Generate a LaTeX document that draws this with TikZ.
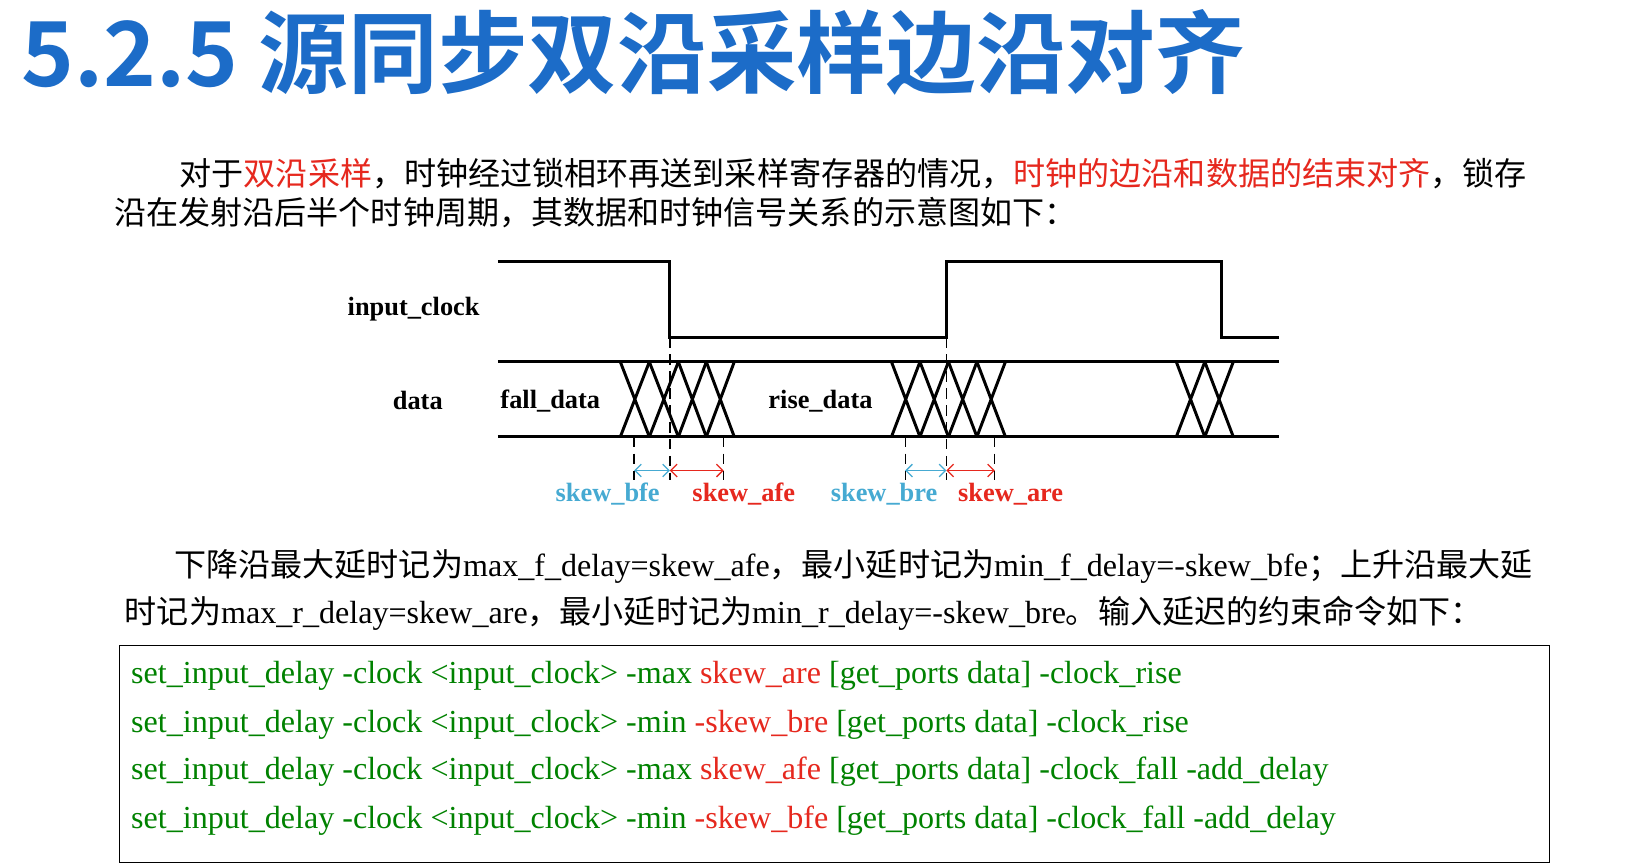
\documentclass[tikz,border=0pt]{standalone}
\usepackage{fontspec}
\setmainfont{Liberation Serif}
\newfontfamily\cjk{Noto Sans CJK SC}
\newfontfamily\cjkb{Noto Sans CJK SC Bold}
\usetikzlibrary{arrows.meta}
\definecolor{ttl}{RGB}{28,108,200}
\definecolor{sred}{RGB}{230,40,30}
\definecolor{sblue}{RGB}{70,170,210}
\definecolor{cgreen}{RGB}{0,130,0}
\begin{document}
\begin{tikzpicture}[x=0.5pt,y=-0.5pt,
  wave/.style={line width=1.4pt},
  txt/.style={anchor=base west,inner sep=0pt,font=\fontsize{15.2}{18}\selectfont},
  code/.style={anchor=base west,inner sep=0pt,font=\fontsize{15.2}{17}\selectfont},
  lab/.style={inner sep=0pt,font=\fontsize{12.5}{14}\selectfont\bfseries},
  dsh/.style={dashed,line width=0.6pt,dash pattern=on 5pt off 3pt},
  dim/.style={{Straight Barb[length=3pt]}-{Straight Barb[length=3pt]},line width=0.6pt}]
\useasboundingbox (0,0) rectangle (1564,818);
\fill[white] (0,0) rectangle (1564,818);
\node[anchor=base west,inner sep=0pt,text=ttl,font=\fontsize{42.5}{46}\selectfont] (title) at (20,82) {\cjkb 5.2.5 源同步双沿采样边沿对齐};
\node[txt] (p1a) at (170,176) {\cjk 对于\textcolor{sred}{双沿采样}，时钟经过锁相环再送到采样寄存器的情况，\textcolor{sred}{时钟的边沿和数据的结束对齐}，锁存};
\node[txt] (p1b) at (108,213) {\cjk 沿在发射沿后半个时钟周期，其数据和时钟信号关系的示意图如下：};
% clock
\draw[wave] (472,248) -- (635,248) -- (635,320) -- (897,320) -- (897,248) -- (1158,248) -- (1158,320) -- (1212,320);
\draw[wave] (472,343) -- (1212,343);
\draw[wave] (472,414) -- (1212,414);
\foreach \a/\b in {588/615.5,615.5/643,643/669.5,669.5/696,845/872,872/899,899/926,926/953,1115/1142,1142/1169}
  \draw[wave] (\a,343) -- (\b,414) (\a,414) -- (\b,343);
\draw[dsh] (635,320) -- (635,455);
\draw[dsh] (897,320) -- (897,455);
\foreach \x in {601,686,858,943} \draw[dsh] (\x,414) -- (\x,455);
\draw[dim,sblue] (601,446) -- (635,446);
\draw[dim,sred] (635,446) -- (686,446);
\draw[dim,sblue] (858,446) -- (897,446);
\draw[dim,sred] (897,446) -- (943,446);
\node[lab,anchor=east] (clk) at (455,293) {input\_clock};
\node[lab] (dat) at (396,380) {data};
\node[lab,anchor=west] (fd) at (474,380) {fall\_data};
\node[lab,anchor=west] (rd) at (728,380) {rise\_data};
\node[lab,text=sblue] (l1) at (576,468) {skew\_bfe};
\node[lab,text=sred] (l2) at (705,468) {skew\_afe};
\node[lab,text=sblue] (l3) at (838,468) {skew\_bre};
\node[lab,text=sred] (l4) at (958,468) {skew\_are};
\node[txt] (p2a) at (165,546) {{\cjk 下降沿最大延时记为}max\_f\_delay=skew\_afe{\cjk ，最小延时记为}min\_f\_delay=-skew\_bfe{\cjk ；上升沿最大延}};
\node[txt] (p2b) at (118,591) {{\cjk 时记为}max\_r\_delay=skew\_are{\cjk ，最小延时记为}min\_r\_delay=-skew\_bre{\cjk 。输入延迟的约束命令如下：}};
\draw[line width=0.6pt] (113,612) rectangle (1469,818);
\node[code,text=cgreen] (c1) at (124,648) {set\_input\_delay -clock <input\_clock> -max \textcolor{sred}{skew\_are} [get\_ports data] -clock\_rise};
\node[code,text=cgreen] (c2) at (124,694) {set\_input\_delay -clock <input\_clock> -min \textcolor{sred}{-skew\_bre} [get\_ports data] -clock\_rise};
\node[code,text=cgreen] (c3) at (124,739) {set\_input\_delay -clock <input\_clock> -max \textcolor{sred}{skew\_afe} [get\_ports data] -clock\_fall -add\_delay};
\node[code,text=cgreen] (c4) at (124,785) {set\_input\_delay -clock <input\_clock> -min \textcolor{sred}{-skew\_bfe} [get\_ports data] -clock\_fall -add\_delay};
\end{tikzpicture}
\end{document}
